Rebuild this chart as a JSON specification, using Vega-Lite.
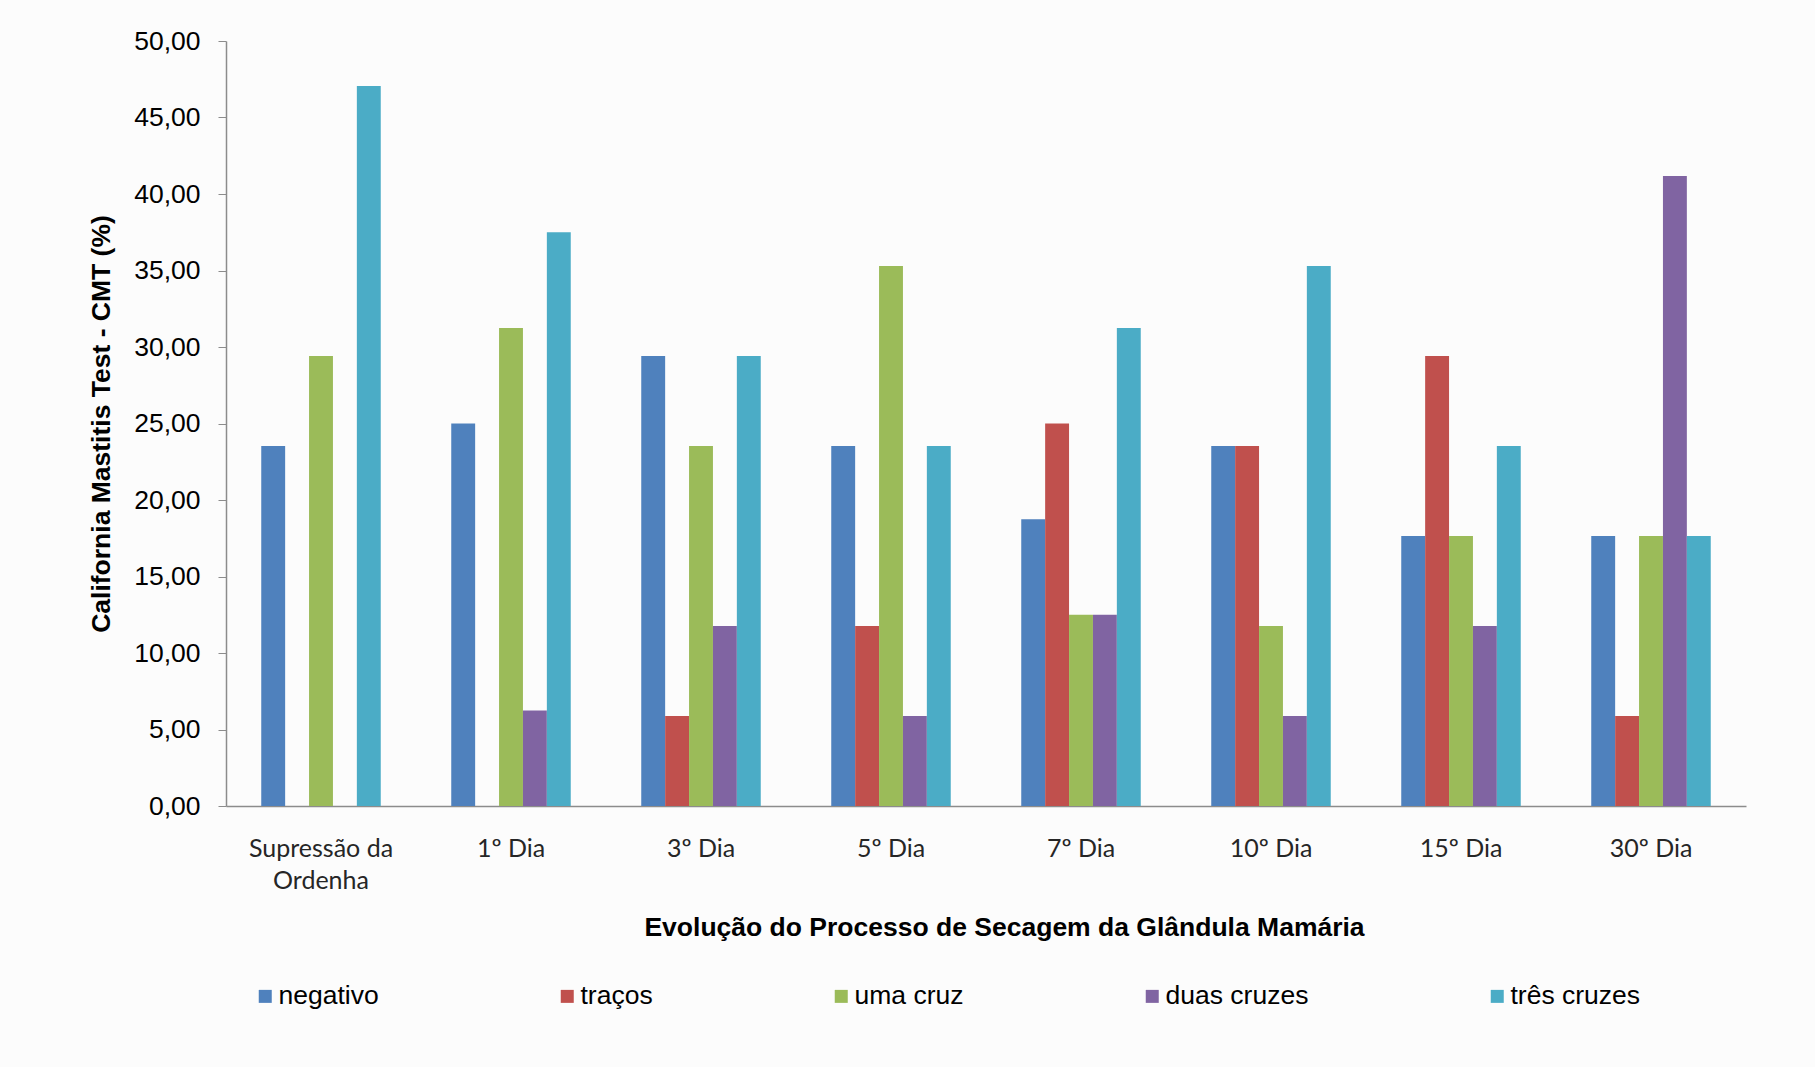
{
  "$schema": "https://vega.github.io/schema/vega-lite/v6.json",
  "autosize": "none",
  "width": 1520,
  "height": 765,
  "padding": {"left": 226, "top": 41, "right": 69, "bottom": 261},
  "background": "#fcfcfc",
  "data": {
    "values": [
      {"fase": "Supressão da Ordenha", "grau": "negativo", "pct": 23.53},
      {"fase": "Supressão da Ordenha", "grau": "traços", "pct": 0},
      {"fase": "Supressão da Ordenha", "grau": "uma cruz", "pct": 29.41},
      {"fase": "Supressão da Ordenha", "grau": "duas cruzes", "pct": 0},
      {"fase": "Supressão da Ordenha", "grau": "três cruzes", "pct": 47.06},
      {"fase": "1º Dia", "grau": "negativo", "pct": 25.0},
      {"fase": "1º Dia", "grau": "traços", "pct": 0},
      {"fase": "1º Dia", "grau": "uma cruz", "pct": 31.25},
      {"fase": "1º Dia", "grau": "duas cruzes", "pct": 6.25},
      {"fase": "1º Dia", "grau": "três cruzes", "pct": 37.5},
      {"fase": "3º Dia", "grau": "negativo", "pct": 29.41},
      {"fase": "3º Dia", "grau": "traços", "pct": 5.88},
      {"fase": "3º Dia", "grau": "uma cruz", "pct": 23.53},
      {"fase": "3º Dia", "grau": "duas cruzes", "pct": 11.76},
      {"fase": "3º Dia", "grau": "três cruzes", "pct": 29.41},
      {"fase": "5º Dia", "grau": "negativo", "pct": 23.53},
      {"fase": "5º Dia", "grau": "traços", "pct": 11.76},
      {"fase": "5º Dia", "grau": "uma cruz", "pct": 35.29},
      {"fase": "5º Dia", "grau": "duas cruzes", "pct": 5.88},
      {"fase": "5º Dia", "grau": "três cruzes", "pct": 23.53},
      {"fase": "7º Dia", "grau": "negativo", "pct": 18.75},
      {"fase": "7º Dia", "grau": "traços", "pct": 25.0},
      {"fase": "7º Dia", "grau": "uma cruz", "pct": 12.5},
      {"fase": "7º Dia", "grau": "duas cruzes", "pct": 12.5},
      {"fase": "7º Dia", "grau": "três cruzes", "pct": 31.25},
      {"fase": "10º Dia", "grau": "negativo", "pct": 23.53},
      {"fase": "10º Dia", "grau": "traços", "pct": 23.53},
      {"fase": "10º Dia", "grau": "uma cruz", "pct": 11.76},
      {"fase": "10º Dia", "grau": "duas cruzes", "pct": 5.88},
      {"fase": "10º Dia", "grau": "três cruzes", "pct": 35.29},
      {"fase": "15º Dia", "grau": "negativo", "pct": 17.65},
      {"fase": "15º Dia", "grau": "traços", "pct": 29.41},
      {"fase": "15º Dia", "grau": "uma cruz", "pct": 17.65},
      {"fase": "15º Dia", "grau": "duas cruzes", "pct": 11.76},
      {"fase": "15º Dia", "grau": "três cruzes", "pct": 23.53},
      {"fase": "30º Dia", "grau": "negativo", "pct": 17.65},
      {"fase": "30º Dia", "grau": "traços", "pct": 5.88},
      {"fase": "30º Dia", "grau": "uma cruz", "pct": 17.65},
      {"fase": "30º Dia", "grau": "duas cruzes", "pct": 41.18},
      {"fase": "30º Dia", "grau": "três cruzes", "pct": 17.65}
    ]
  },
  "mark": {"type": "bar"},
  "encoding": {
    "x": {
      "field": "fase",
      "type": "nominal",
      "sort": null,
      "scale": {"paddingInner": 0.371, "paddingOuter": 0.1855},
      "axis": {
        "title": "Evolução do Processo de Secagem da Glândula Mamária",
        "titleX": 778,
        "labelAngle": 0,
        "ticks": false,
        "tickSize": 0,
        "labelPadding": 30,
        "labelFont": "Lato",
        "labelFontSize": 25,
        "labelColor": "#262626",
        "labelLineHeight": 32,
        "labelBaseline": "top",
        "labelExpr": "datum.label == 'Supressão da Ordenha' ? ['Supressão da', 'Ordenha'] : datum.label",
        "domainColor": "#8c8c8c",
        "domainWidth": 1.5,
        "titleFont": "Liberation Sans",
        "titleFontSize": 26.5,
        "titleFontWeight": "bold",
        "titleColor": "#000000",
        "titlePadding": 21
      }
    },
    "xOffset": {
      "field": "grau",
      "type": "nominal",
      "sort": ["negativo", "traços", "uma cruz", "duas cruzes", "três cruzes"]
    },
    "y": {
      "field": "pct",
      "type": "quantitative",
      "scale": {"domain": [0, 50], "nice": false},
      "axis": {
        "title": "California Mastitis Test - CMT (%)",
        "values": [0, 5, 10, 15, 20, 25, 30, 35, 40, 45, 50],
        "labelExpr": "replace(format(datum.value, '.2f'), '.', ',')",
        "grid": false,
        "tickSize": 8,
        "tickColor": "#8c8c8c",
        "domainColor": "#8c8c8c",
        "domainWidth": 1.5,
        "labelPadding": 18,
        "labelFont": "Liberation Sans",
        "labelFontSize": 26.5,
        "labelColor": "#000000",
        "titleFont": "Liberation Sans",
        "titleFontSize": 26.5,
        "titleFontWeight": "bold",
        "titleColor": "#000000",
        "titlePadding": 18
      }
    },
    "color": {
      "field": "grau",
      "type": "nominal",
      "scale": {
        "domain": ["negativo", "traços", "uma cruz", "duas cruzes", "três cruzes"],
        "range": ["#4f81bd", "#c0504d", "#9bbb59", "#8064a2", "#4bacc6"]
      },
      "legend": {
        "title": null,
        "orient": "none",
        "legendX": 26,
        "legendY": 942,
        "direction": "horizontal",
        "columns": 5,
        "columnPadding": 175,
        "padding": 0,
        "symbolType": "square",
        "symbolSize": 169,
        "symbolStrokeWidth": 0,
        "labelOffset": 0,
        "labelFont": "Liberation Sans",
        "labelFontSize": 26.5,
        "labelColor": "#000000",
        "labelLimit": 300
      }
    }
  },
  "config": {
    "view": {"stroke": null}
  }
}
